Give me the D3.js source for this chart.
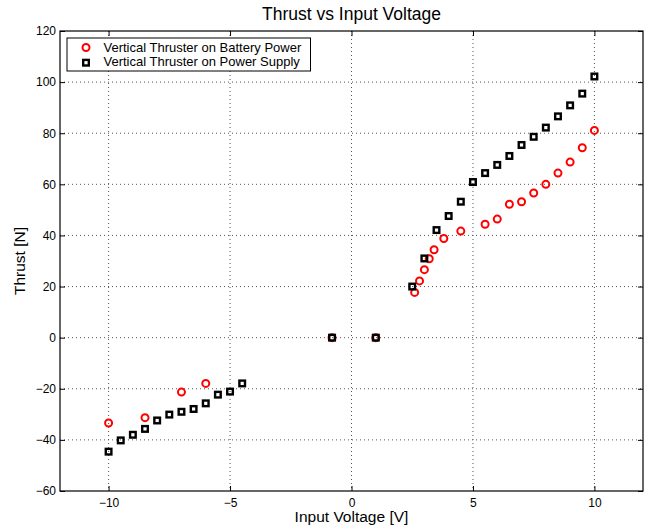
<!DOCTYPE html>
<html>
  <head>
    <title>Thrust vs Input Voltage</title>
    <script src="https://cdn.jsdelivr.net/npm/d3@7"></script>
    <style>
      body { margin: 0; background: #fff; }
      text { font-family: "Liberation Sans", Arial, sans-serif; }
    </style>
  </head>
  <body>
    <svg width="651" height="530" id="mainsvg"></svg>
    <script>
      // battery power (red circles)
      const batteryX = [-10, -8.5, -7, -6, -0.8, 1, 2.6, 2.8, 3.0, 3.2, 3.4, 3.8, 4.5, 5.5, 6, 6.5, 7, 7.5, 8, 8.5, 9, 9.5, 10];
      const batteryY = [-33.4, -31.3, -21.3, -17.9, 0, 0, 17.7, 22.2, 26.6, 30.9, 34.4, 38.8, 41.7, 44.4, 46.4, 52.2, 53.2, 56.6, 60, 64.4, 68.7, 74.3, 81.1];
      // power supply (black squares)
      const supplyX = [-10, -9.5, -9, -8.5, -8, -7.5, -7, -6.5, -6, -5.5, -5, -4.5, -0.8, 1, 2.5, 3, 3.5, 4, 4.5, 5, 5.5, 6, 6.5, 7, 7.5, 8, 8.5, 9, 9.5, 10];
      const supplyY = [-44.6, -40.2, -38, -35.7, -32.4, -30.1, -29, -27.9, -25.7, -22.3, -21.1, -17.9, 0, 0, 20, 31, 42.1, 47.6, 53.2, 60.9, 64.4, 67.6, 71.1, 75.4, 78.6, 82.2, 86.6, 90.9, 95.5, 102.2];
      const xTicks = [-10, -5, 0, 5, 10];
      const yTicks = [-60, -40, -20, 0, 20, 40, 60, 80, 100, 120];
      const seriesNames = ['Vertical Thruster on Battery Power', 'Vertical Thruster on Power Supply'];

      const svg = d3.select('#mainsvg');
      const margin = {top: 31, right: 8, bottom: 39, left: 60};
      const width = +svg.attr('width');
      const height = +svg.attr('height');
      const innerWidth = width - margin.left - margin.right;
      const innerHeight = height - margin.top - margin.bottom;

      const xScale = d3.scaleLinear().domain([-12, 12]).range([0, innerWidth]);
      const yScale = d3.scaleLinear().domain([-60, 120]).range([innerHeight, 0]);

      const g = svg.append('g')
        .attr('transform', `translate(${margin.left}, ${margin.top})`);

      // dotted grid
      g.append('g').selectAll('line').data(xTicks).join('line')
        .attr('x1', d => xScale(d)).attr('x2', d => xScale(d))
        .attr('y1', 0).attr('y2', innerHeight)
        .attr('stroke', '#555').attr('stroke-width', 1).attr('stroke-dasharray', '1,3');
      g.append('g').selectAll('line').data(yTicks.slice(1, -1)).join('line')
        .attr('y1', d => yScale(d)).attr('y2', d => yScale(d))
        .attr('x1', 0).attr('x2', innerWidth)
        .attr('stroke', '#555').attr('stroke-width', 1).attr('stroke-dasharray', '1,3');

      // axes, ticks pointing inward, box on all sides
      const minus = d => d < 0 ? '\u2212' + Math.abs(d) : d;
      const xAxis = d3.axisBottom(xScale).tickValues(xTicks).tickSize(-5).tickPadding(7).tickFormat(minus);
      const yAxis = d3.axisLeft(yScale).tickValues(yTicks).tickSize(-5).tickPadding(4).tickFormat(minus);
      g.append('g').attr('transform', `translate(0, ${innerHeight})`).call(xAxis);
      g.append('g').call(yAxis);
      g.append('g').call(d3.axisTop(xScale).tickValues(xTicks).tickSize(-5).tickFormat(''));
      g.append('g').attr('transform', `translate(${innerWidth}, 0)`)
        .call(d3.axisRight(yScale).tickValues(yTicks).tickSize(-5).tickFormat(''));
      g.selectAll('.domain').remove();
      g.selectAll('.tick line').attr('stroke', '#000');
      g.selectAll('.tick text').attr('font-size', 12).attr('fill', '#000');
      g.append('rect')
        .attr('width', innerWidth).attr('height', innerHeight)
        .attr('fill', 'none').attr('stroke', '#000').attr('stroke-width', 1.2);

      // markers
      const battery = batteryX.map((x, i) => ({x: x, y: batteryY[i]}));
      const supply = supplyX.map((x, i) => ({x: x, y: supplyY[i]}));

      g.append('g').selectAll('circle').data(battery).join('circle')
        .attr('cx', d => xScale(d.x)).attr('cy', d => yScale(d.y)).attr('r', 3.5)
        .attr('fill', 'none').attr('stroke', '#f00').attr('stroke-width', 2);

      g.append('g').selectAll('rect').data(supply).join('rect')
        .attr('x', d => xScale(d.x) - 2.8).attr('y', d => yScale(d.y) - 2.8)
        .attr('width', 5.6).attr('height', 5.6)
        .attr('fill', 'none').attr('stroke', '#000').attr('stroke-width', 2.4);

      // legend
      const legend = g.append('g').attr('transform', 'translate(7, 7)');
      legend.append('rect').attr('width', 243.5).attr('height', 33)
        .attr('fill', '#fff').attr('stroke', '#000').attr('stroke-width', 1);
      legend.append('circle').attr('cx', 19).attr('cy', 9.5).attr('r', 3.5)
        .attr('fill', 'none').attr('stroke', '#f00').attr('stroke-width', 2);
      legend.append('rect').attr('x', 16.2).attr('y', 21.9).attr('width', 5.6).attr('height', 5.6)
        .attr('fill', 'none').attr('stroke', '#000').attr('stroke-width', 2.4);
      legend.selectAll('text').data(seriesNames).join('text')
        .attr('x', 36.5).attr('y', (d, i) => 13.5 + i * 14.3)
        .attr('font-size', 13).text(d => d);

      // title and labels
      svg.append('text').attr('x', margin.left + innerWidth / 2).attr('y', 20)
        .attr('text-anchor', 'middle').attr('font-size', 17.5).text('Thrust vs Input Voltage');
      svg.append('text').attr('x', margin.left + innerWidth / 2).attr('y', 521.5)
        .attr('text-anchor', 'middle').attr('font-size', 15.5).text('Input Voltage [V]');
      svg.append('text')
        .attr('transform', `translate(25, ${margin.top + innerHeight / 2}) rotate(-90)`)
        .attr('text-anchor', 'middle').attr('font-size', 15.5).text('Thrust [N]');
    </script>
  </body>
</html>
